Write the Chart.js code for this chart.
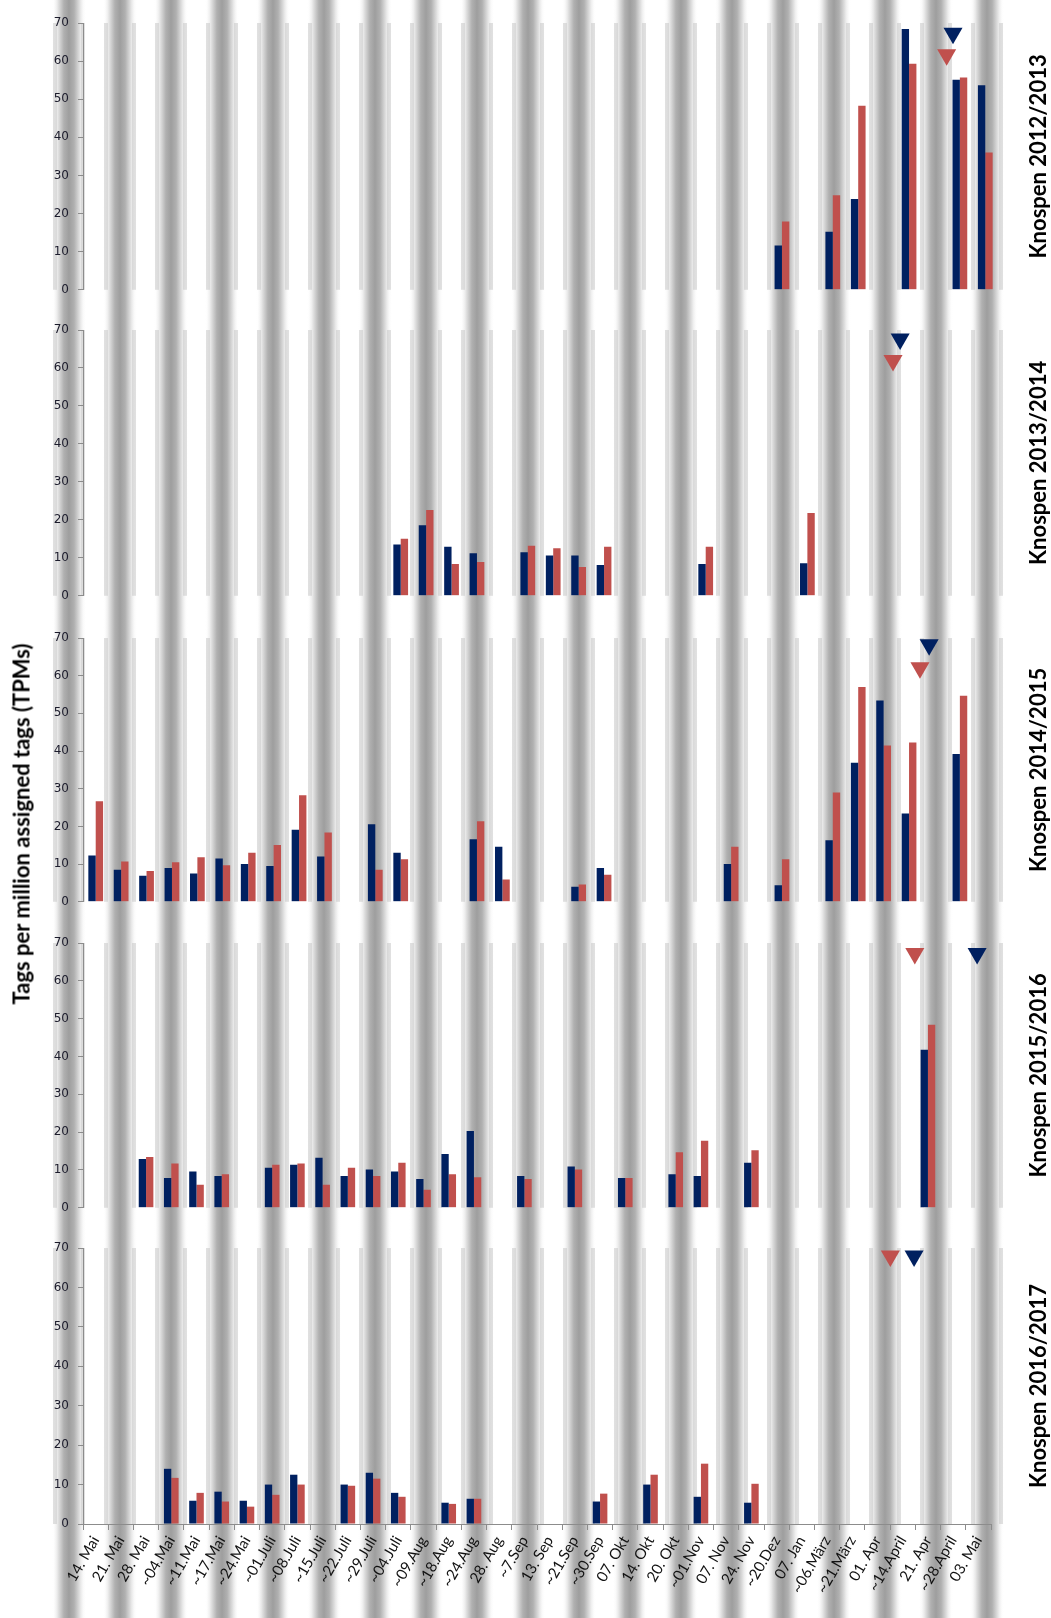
<!DOCTYPE html>
<html>
<head>
<meta charset="utf-8">
<script src="https://cdn.jsdelivr.net/npm/chart.js@4.4.1/dist/chart.umd.min.js"></script>
<style>
  body { margin: 0; background: #fff; }
  #wrap { position: relative; width: 1051px; height: 1618px; overflow: hidden; }
  #wrap canvas { position: absolute; left: 0; }
  #ytitle { position: absolute; left: 21px; top: 824px; width: 0; height: 0; z-index: 2; }
  #ytitle span {
    position: absolute; white-space: nowrap;
    transform: translate(-50%, -50%) rotate(-90deg);
    font: bold 22px Lato, sans-serif; color: #000;
  }
</style>
</head>
<body>
<div id="wrap">
  <div id="ytitle"><span>Tags per million assigned tags (TPMs)</span></div>
</div>
<script>
const _ = null

// Sammeltermine (x-Achse)
const dates = [
  "14. Mai", "21. Mai", "28. Mai", "~04.Mai", "~11.Mai", "~17.Mai", "~24.Mai", "~01.Juli", "~08.Juli", "~15.Juli", "~22.Juli", "~29.Juli",
  "~04.Juli", "~09.Aug", "~18.Aug", "~24.Aug", "28. Aug", "~7.Sep", "13. Sep", "~21.Sep", "~30.Sep", "07. Okt", "14. Okt", "20. Okt",
  "~01.Nov", "07. Nov", "24. Nov", "~20.Dez", "07. Jan", "~06.März", "~21.März", "01. Apr", "~14.April", "21. Apr", "~28.April", "03. Mai",
]
const yTicks = [0, 10, 20, 30, 40, 50, 60, 70]

// Knospen 2012/2013
const blue1213 = [
  _, _, _, _, _, _, _, _, _, _, _, _,
  _, _, _, _, _, _, _, _, _, _, _, _,
  _, _, _, 11.6, _, 15.2, 23.8, _, 68.4, _, 55.1, 53.7,
]
const red1213 = [
  _, _, _, _, _, _, _, _, _, _, _, _,
  _, _, _, _, _, _, _, _, _, _, _, _,
  _, _, _, 17.9, _, 24.8, 48.3, _, 59.3, _, 55.7, 36.0,
]
const blueMark1213 = [{ x: 33.73, y: 67.3 }]
const redMark1213 = [{ x: 33.48, y: 61.7 }]

// Knospen 2013/2014
const blue1314 = [
  _, _, _, _, _, _, _, _, _, _, _, _,
  13.5, 18.6, 12.9, 11.2, _, 11.5, 10.6, 10.6, 8.1, _, _, _,
  8.4, _, _, _, 8.6, _, _, _, _, _, _, _,
]
const red1314 = [
  _, _, _, _, _, _, _, _, _, _, _, _,
  15.0, 22.6, 8.4, 8.9, _, 13.2, 12.5, 7.6, 12.9, _, _, _,
  12.9, _, _, _, 21.8, _, _, _, _, _, _, _,
]
const blueMark1314 = [{ x: 31.65, y: 67.6 }]
const redMark1314 = [{ x: 31.37, y: 62.0 }]

// Knospen 2014/2015
const blue1415 = [
  12.3, 8.5, 6.9, 9.0, 7.5, 11.5, 10.0, 9.5, 19.1, 12.0, _, 20.6,
  13.0, _, _, 16.6, 14.6, _, _, 4.0, 9.0, _, _, _,
  _, 10.0, _, 4.4, _, 16.3, 36.9, 53.4, 23.4, _, 39.2, _,
]
const red1415 = [
  26.7, 10.7, 8.2, 10.5, 11.8, 9.7, 13.0, 15.1, 28.3, 18.4, _, 8.5,
  11.3, _, _, 21.4, 5.9, _, _, 4.6, 7.2, _, _, _,
  _, 14.6, _, 11.3, _, 29.0, 57.0, 41.5, 42.3, _, 54.7, _,
]
const blueMark1415 = [{ x: 32.79, y: 68.2 }]
const redMark1415 = [{ x: 32.43, y: 62.1 }]

// Knospen 2015/2016
const blue1516 = [
  _, _, 12.9, 7.9, 9.6, 8.4, _, 10.6, 11.4, 13.2, 8.4, 10.1,
  9.6, 7.6, 14.2, 20.3, _, 8.4, _, 10.9, _, 7.9, _, 8.9,
  8.4, _, 11.9, _, _, _, _, _, _, 41.8, _, _,
]
const red1516 = [
  _, _, 13.4, 11.7, 6.1, 8.9, _, 11.4, 11.7, 6.1, 10.6, 8.4,
  11.9, 4.8, 8.9, 8.1, _, 7.6, _, 10.1, _, 7.9, _, 14.7,
  17.7, _, 15.2, _, _, _, _, _, _, 48.4, _, _,
]
const blueMark1516 = [{ x: 34.95, y: 67.2 }]
const redMark1516 = [{ x: 32.48, y: 67.2 }]

// Knospen 2016/2017
const blue1617 = [
  _, _, _, 14.0, 5.9, 8.2, 5.9, 10.0, 12.5, _, 10.0, 13.0,
  7.9, _, 5.4, 6.4, _, _, _, _, 5.7, _, 10.0, _,
  6.9, _, 5.4, _, _, _, _, _, _, _, _, _,
]
const red1617 = [
  _, _, _, 11.7, 7.9, 5.7, 4.4, 7.4, 10.0, _, 9.7, 11.5,
  6.9, _, 5.1, 6.4, _, _, _, _, 7.7, _, 12.5, _,
  15.3, _, 10.2, _, _, _, _, _, _, _, _, _,
]
const blueMark1617 = [{ x: 32.45, y: 68.0 }]
const redMark1617 = [{ x: 31.51, y: 68.0 }]

const panels = [
  { title: "Knospen 2012/2013", blue: blue1213, red: red1213, blueMark: blueMark1213, redMark: redMark1213, top: 0, height: 306, padTop: 23, padRight: 53 },
  { title: "Knospen 2013/2014", blue: blue1314, red: red1314, blueMark: blueMark1314, redMark: redMark1314, top: 306, height: 306, padTop: 24, padRight: 53 },
  { title: "Knospen 2014/2015", blue: blue1415, red: red1415, blueMark: blueMark1415, redMark: redMark1415, top: 612, height: 306, padTop: 26, padRight: 53 },
  { title: "Knospen 2015/2016", blue: blue1516, red: red1516, blueMark: blueMark1516, redMark: redMark1516, top: 918, height: 306, padTop: 25, padRight: 60 },
  { title: "Knospen 2016/2017", blue: blue1617, red: red1617, blueMark: blueMark1617, redMark: redMark1617, top: 1224, height: 394, padTop: 24, padRight: 60 },
]

const NAVY = "#002060"
const RED = "#c0504d"
const AXIS = "#8c8c8c"
const PLOT_H = 276
const LABEL_H = 70

// Hintergrund: graue Streifen
const STRIPE_X0 = 120
const STRIPE_STEP = 51
const STRIPE_W = 34

const stripes = {
  id: "stripes",
  beforeDraw(chart) {
    const { ctx, chartArea } = chart
    ctx.save()
    for (let k = -1; k <= 17; k++) {
      const cx = STRIPE_X0 + k * STRIPE_STEP
      const x0 = cx - STRIPE_W / 2
      const g = ctx.createLinearGradient(x0, 0, x0 + STRIPE_W, 0)
      g.addColorStop(0, "rgba(255,255,255,0)")
      g.addColorStop(0.18, "#e2e2e2")
      g.addColorStop(0.35, "#b0b0b0")
      g.addColorStop(0.5, "#9e9e9e")
      g.addColorStop(0.65, "#b0b0b0")
      g.addColorStop(0.82, "#e2e2e2")
      g.addColorStop(1, "rgba(255,255,255,0)")
      ctx.fillStyle = g
      ctx.fillRect(x0, 0, STRIPE_W, chart.height)
      // helle Kanten innerhalb der Zeichenfläche
      ctx.fillStyle = "rgba(200,200,200,0.55)"
      ctx.fillRect(x0 + 1, chartArea.top, 4, chartArea.bottom - chartArea.top)
      ctx.fillRect(x0 + STRIPE_W - 5, chartArea.top, 4, chartArea.bottom - chartArea.top)
    }
    ctx.restore()
  },
}

// Dreiecke (Zeitpunkte) über die Skalen x/y zeichnen
const markers = {
  id: "markers",
  afterDatasetsDraw(chart, args, opts) {
    const { ctx } = chart
    const xs = chart.scales.x
    const ys = chart.scales.y
    const style = { pointStyle: "triangle", rotation: 180, radius: 11, borderWidth: 0 }
    for (const m of opts.items) {
      for (const pt of m.data) {
        ctx.save()
        ctx.fillStyle = m.color
        ctx.strokeStyle = m.color
        Chart.helpers.drawPoint(ctx, style, xs.getPixelForValue(pt.x), ys.getPixelForValue(pt.y))
        ctx.restore()
      }
    }
  },
}

const panelTitle = {
  id: "panelTitle",
  afterDraw(chart, args, opts) {
    const { ctx, chartArea } = chart
    ctx.save()
    ctx.translate(1039, (chartArea.top + chartArea.bottom) / 2)
    ctx.rotate(-Math.PI / 2)
    ctx.font = "bold 22px Lato"
    ctx.fillStyle = "#000"
    ctx.textAlign = "center"
    ctx.textBaseline = "middle"
    ctx.fillText(opts.text, 0, 0)
    ctx.restore()
  },
}

function createPanel(p, isLast) {
  const canvas = document.createElement("canvas")
  canvas.width = 1051
  canvas.height = p.height
  canvas.style.top = p.top + "px"
  document.getElementById("wrap").appendChild(canvas)

  const padBottom = p.height - p.padTop - PLOT_H - (isLast ? LABEL_H : 0)

  const xScale = {
    type: "category",
    display: isLast,
    offset: true,
    grid: { offset: true, drawOnChartArea: false, tickLength: 6, color: AXIS },
    border: { color: AXIS },
    ticks: {
      autoSkip: false,
      minRotation: 60,
      maxRotation: 60,
      padding: 3,
      font: { family: "Lato", size: 15 },
      color: "#111",
    },
  }
  if (isLast) xScale.afterFit = (scale) => { scale.height = LABEL_H }

  new Chart(canvas.getContext("2d"), {
    type: "bar",
    data: {
      labels: dates,
      datasets: [
        { data: p.blue, backgroundColor: NAVY, categoryPercentage: 0.58, barPercentage: 1 },
        { data: p.red, backgroundColor: RED, categoryPercentage: 0.58, barPercentage: 1 },
      ],
    },
    options: {
      responsive: false,
      animation: false,
      layout: { padding: { top: p.padTop, bottom: padBottom, left: 0, right: p.padRight } },
      plugins: {
        legend: { display: false },
        tooltip: { enabled: false },
        panelTitle: { text: p.title },
        markers: {
          items: [
            { data: p.blueMark, color: NAVY },
            { data: p.redMark, color: RED },
          ],
        },
      },
      scales: {
        x: xScale,
        y: {
          min: 0,
          max: 70,
          afterBuildTicks: (scale) => { scale.ticks = yTicks.map((v) => ({ value: v })) },
          ticks: {
            padding: 9,
            font: { family: "DejaVu Sans", size: 12 },
            color: "#1c1c2c",
          },
          grid: { drawOnChartArea: false, tickLength: 5, color: AXIS },
          border: { color: AXIS },
          afterFit: (scale) => { scale.width = 83 },
        },
      },
    },
    plugins: [stripes, markers, panelTitle],
  })
}

document.addEventListener("DOMContentLoaded", () => {
  panels.forEach((p, i) => createPanel(p, i === panels.length - 1))
})
</script>
</body>
</html>
